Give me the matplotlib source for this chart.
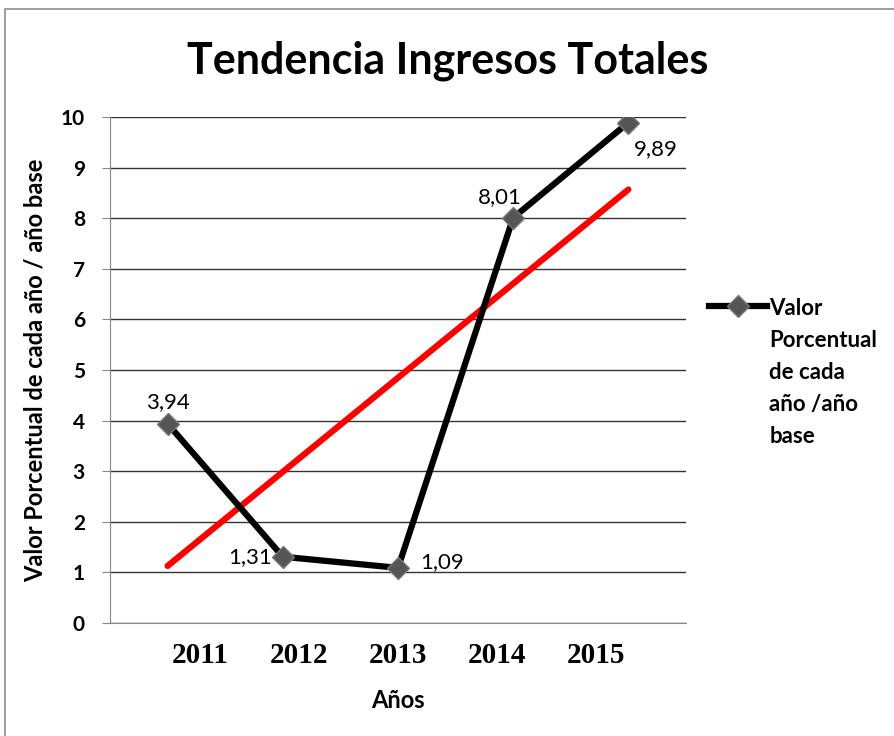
import matplotlib.pyplot as plt
import numpy as np
from matplotlib.patches import Rectangle

# Datos del gráfico
anios = ["2011", "2012", "2013", "2014", "2015"]
valores = [3.94, 1.31, 1.09, 8.01, 9.89]
etiquetas = ["3,94", "1,31", "1,09", "8,01", "9,89"]
nombre_serie = "Valor\nPorcentual\nde cada\naño /año\nbase"

fig = plt.figure(figsize=(8.95, 7.36), dpi=100)
ax = fig.add_axes([0.1229, 0.1535, 0.6436, 0.6875])

# Borde del gráfico
fig.patches.append(Rectangle((0.006, -0.01), 1.1, 0.998, transform=fig.transFigure,
                             fill=False, edgecolor="#8c8c8c", linewidth=1.2))

x = np.arange(1, len(valores) + 1)

# Línea de tendencia (regresión lineal)
m, b = np.polyfit(x, valores, 1)
ax.plot([x[0], x[-1]], [m * x[0] + b, m * x[-1] + b], color="#ff0000", linewidth=4.5,
        solid_capstyle="round", zorder=3)

ax.plot(x, valores, color="black", linewidth=4.5, marker="D", markersize=11,
        markerfacecolor="#555555", markeredgecolor="#777777", markeredgewidth=1,
        label=nombre_serie, zorder=4)

# Etiquetas de datos
offsets = [(0, 8, "center", "bottom"), (-8, 0, "right", "center"),
           (16, 4, "left", "center"), (-10, 8, "center", "bottom"),
           (4, -12, "left", "top")]
for xi, yi, txt, (dx, dy, ha, va) in zip(x, valores, etiquetas, offsets):
    ax.annotate(txt, (xi, yi), xytext=(dx, dy), textcoords="offset points",
                ha=ha, va=va, fontsize=16, family="Lato")

ax.set_xlim(0.5, 5.5)
ax.set_ylim(0, 10)
ax.set_yticks(range(0, 11))
ax.yaxis.grid(True, color="#333333", linewidth=1)
ax.set_axisbelow(True)
# las etiquetas de años quedan algo más juntas que los puntos
ax.set_xticks(3 + (x - 3) * 0.86)
ax.set_xticklabels(anios, family="Liberation Serif", fontweight="bold", fontsize=21)
for lab in ax.get_yticklabels():
    lab.set_family("Lato")
    lab.set_fontweight("bold")
    lab.set_fontsize(15)
ax.tick_params(axis="x", length=0, pad=14)
ax.tick_params(axis="y", length=6, color="#888888", pad=12)

for s in ["top", "right"]:
    ax.spines[s].set_visible(False)
ax.spines["left"].set_color("#888888")
ax.spines["bottom"].set_color("#888888")

ax.set_xlabel("Años", family="Lato", fontweight="bold", fontsize=17, labelpad=14)
ax.set_ylabel("Valor Porcentual de cada año / año base", family="Lato",
              fontweight="bold", fontsize=17, labelpad=10)

fig.text(0.5, 0.918, "Tendencia Ingresos Totales", ha="center", va="center",
         family="Lato", fontweight="bold", fontsize=31)

leg = ax.legend(loc="upper left", bbox_to_anchor=(1.025, 0.66), frameon=False,
                prop={"family": "Lato", "weight": "bold", "size": 16},
                handlelength=2.6, handletextpad=0.1, borderaxespad=0)
for t in leg.get_texts():
    t.set_linespacing(1.65)
# el símbolo va a la altura de la primera línea
for col in leg._legend_handle_box.get_children():
    for entry in col.get_children():
        entry.align = "top"

plt.savefig("out.png", dpi=100)
